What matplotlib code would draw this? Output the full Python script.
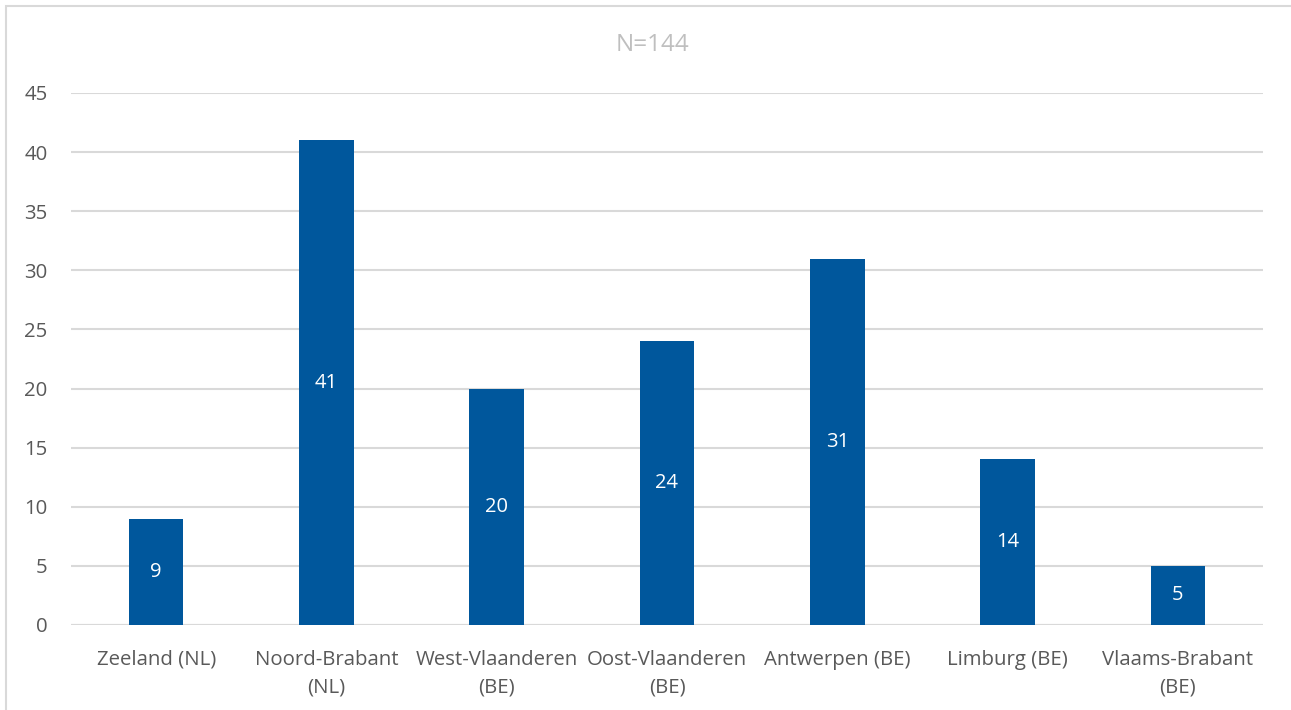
import matplotlib

matplotlib.use("Agg")
import matplotlib.pyplot as plt
from matplotlib.patches import Rectangle

categories = [
    "Zeeland (NL)",
    "Noord-Brabant\n(NL)",
    "West-Vlaanderen\n(BE)",
    "Oost-Vlaanderen\n(BE)",
    "Antwerpen (BE)",
    "Limburg (BE)",
    "Vlaams-Brabant\n(BE)",
]
counts = [9, 41, 20, 24, 31, 14, 5]
yticks = [0, 5, 10, 15, 20, 25, 30, 35, 40, 45]
title = "N=144"

BAR = "#00579C"
TEXT = "#595959"
GRID = "#D9D9D9"

plt.rcParams["font.family"] = ["Open Sans", "DejaVu Sans"]

W, H = 1291, 710
fig = plt.figure(figsize=(W / 100, H / 100), dpi=100)
ax = fig.add_axes([71 / W, 1 - 625 / H, (1263 - 71) / W, (625 - 93) / H])

x = range(len(categories))
bars = ax.bar(x, counts, width=0.32, color=BAR, zorder=3)
for b, v in zip(bars, counts):
    ax.text(b.get_x() + b.get_width() / 2, v / 2, str(v), ha="center", va="center",
            color="white", fontsize=14.5, zorder=4)

ax.set_xlim(-0.5, len(categories) - 0.5)
ax.set_ylim(0, 45)
ax.set_yticks(yticks)
ax.set_xticks(list(x), categories)
ax.tick_params(axis="both", length=0, colors=TEXT, labelsize=14.7)
ax.tick_params(axis="y", pad=17)
ax.tick_params(axis="x", pad=18)
for lbl in ax.get_xticklabels():
    lbl.set_linespacing(1.5)
ax.grid(axis="y", color=GRID, linewidth=1.5, zorder=0)
for s in ax.spines.values():
    s.set_visible(False)
ax.axhline(0, color=GRID, linewidth=1.5, zorder=2)
ax.set_axisbelow(True)

fig.text(653 / W, 1 - 45 / H, title, ha="center", va="center", color="#BFBFBF", fontsize=17.5)

# chart-area border (only top and left visible in the crop)
fig.patches.append(Rectangle((6 / W, -0.1), 1.2, 1 - 6 / H + 0.1, transform=fig.transFigure,
                             fill=False, edgecolor=GRID, linewidth=1.5))

fig.savefig("out.png", dpi=100)
